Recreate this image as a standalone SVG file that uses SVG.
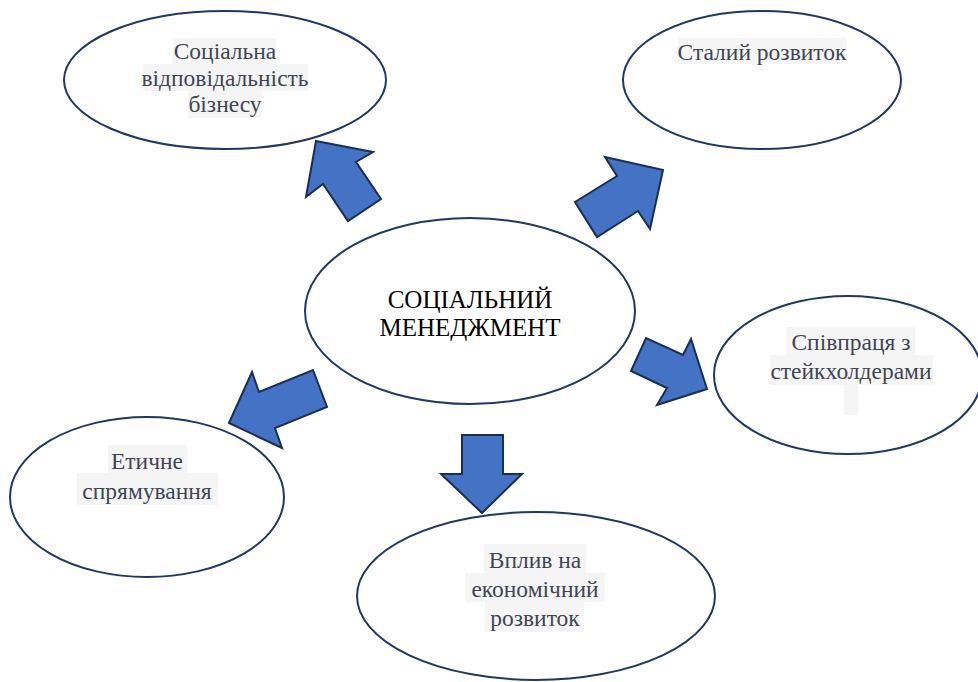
<svg xmlns="http://www.w3.org/2000/svg" width="978" height="682" viewBox="0 0 978 682">
<style>
.el{fill:#ffffff;stroke:#1f3864;stroke-width:2}
.ar{fill:#4472c4;stroke:#1a2e52;stroke-width:2;stroke-linejoin:miter}
.hl{fill:#f5f5f5}
.t{font-size:23.5px;fill:#3f4554;text-anchor:middle}
.c{font-size:25px;fill:#000000;text-anchor:middle}
</style>
<rect width="978" height="682" fill="#ffffff"/>
<g id="connectors">
<polygon class="ar" points="316,141 373,152 356,162 381,199 348,221 323,184 306,197"/>
<polygon class="ar" points="663,170 605,157 617,176 575,202 597,237 638,211 650,229"/>
<polygon class="ar" points="707,389 691,339 683,355 646,338 631,371 667,388 657,405"/>
<polygon class="ar" points="229,423 252,372 259,392 313,370 327,407 275,428 282,448"/>
<polygon class="ar" points="462,435 503,435 503,474 522,474 482,513 441,474 462,474"/>
</g>
<g id="center">
<ellipse class="el" cx="470" cy="311" rx="165" ry="93"/>
<text class="c" font-family="Liberation Serif" x="470" y="308">СОЦІАЛЬНИЙ</text>
<text class="c" font-family="Liberation Serif" x="470" y="336">МЕНЕДЖМЕНТ</text>
</g>
<g id="csr">
<ellipse class="el" cx="225" cy="80" rx="161" ry="69"/>
<rect class="hl" x="173" y="38" width="103" height="26"/>
<rect class="hl" x="143" y="64" width="165" height="27"/>
<rect class="hl" x="188" y="91" width="74" height="27"/>
<text class="t" font-family="Liberation Serif" x="225" y="59">Соціальна</text>
<text class="t" font-family="Liberation Serif" x="225" y="86">відповідальність</text>
<text class="t" font-family="Liberation Serif" x="225" y="112">бізнесу</text>
</g>
<g id="sustainable">
<ellipse class="el" cx="762" cy="80" rx="139" ry="69"/>
<rect class="hl" x="678" y="38" width="169" height="26"/>
<text class="t" font-family="Liberation Serif" x="762" y="60">Сталий розвиток</text>
</g>
<g id="stakeholders">
<ellipse class="el" cx="848" cy="375" rx="134" ry="79"/>
<rect class="hl" x="786" y="327" width="129" height="28"/>
<rect class="hl" x="770" y="355" width="163" height="30"/>
<rect class="hl" x="844" y="385" width="14" height="30"/>
<text class="t" font-family="Liberation Serif" x="851" y="350">Співпраця з</text>
<text class="t" font-family="Liberation Serif" x="851" y="379">стейкхолдерами</text>
</g>
<g id="ethics">
<ellipse class="el" cx="147" cy="497" rx="137" ry="80"/>
<rect class="hl" x="108" y="445" width="79" height="28"/>
<rect class="hl" x="77" y="473" width="141" height="32"/>
<text class="t" font-family="Liberation Serif" x="147" y="469">Етичне</text>
<text class="t" font-family="Liberation Serif" x="147" y="499">спрямування</text>
</g>
<g id="economic">
<ellipse class="el" cx="536" cy="596" rx="179" ry="84"/>
<rect class="hl" x="484" y="544" width="102" height="29"/>
<rect class="hl" x="465" y="573" width="140" height="29"/>
<rect class="hl" x="485" y="602" width="99" height="30"/>
<text class="t" font-family="Liberation Serif" x="535" y="568">Вплив на</text>
<text class="t" font-family="Liberation Serif" x="535" y="597">економічний</text>
<text class="t" font-family="Liberation Serif" x="535" y="626">розвиток</text>
</g>
</svg>
